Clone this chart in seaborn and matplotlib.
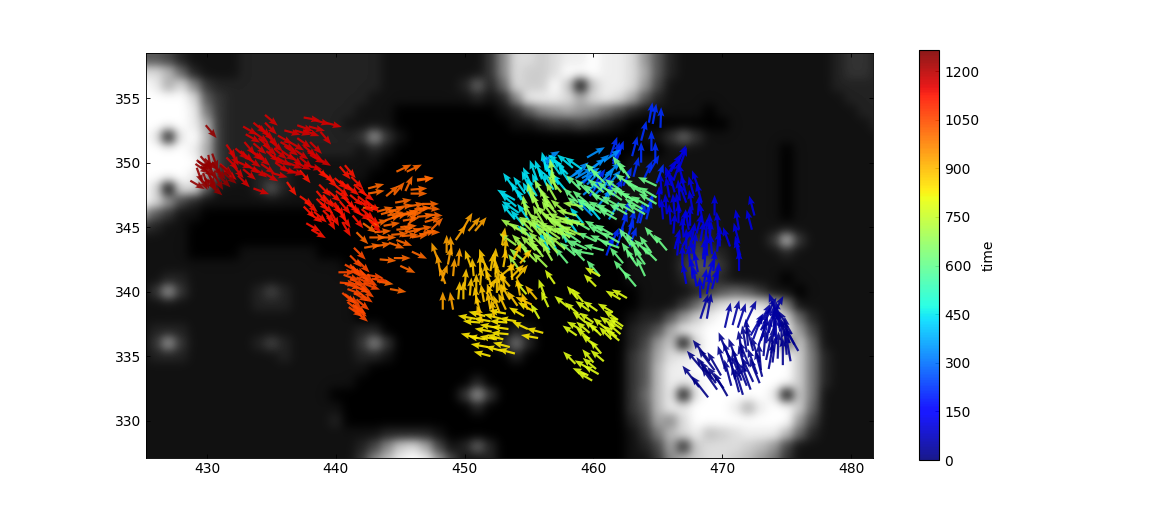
import matplotlib
matplotlib.use('Agg')
import matplotlib.pyplot as plt
import numpy as np
import seaborn as sns

# Background image, one hex digit per cell (0 black .. f white), x=425..482, y=358..327
image_rows = [
    '5542111122 2222222221 111111138d dcdeefeed9 5211111111 11112332',
    'ddb6211122 2222222221 111111138d ccdfffeeda 5211111111 11112332',
    'fead832222 2222222221 111112626d ccfc0ceed9 4111111111 11112222',
    'ffffd53222 2222222211 1111112128 eeedadeda5 2111111111 11111222',
    'ffffe73222 2222222111 0000000012 589a986421 1111011111 11111122',
    'ffffea3222 2222221111 0000000001 1233432100 0000001111 11111112',
    'fe1efb3222 2222222393 1000000000 0000000001 1363111111 11111111',
    'ffffea3222 2222222121 0000000000 0000000000 0111111111 01111111',
    'fffffb3222 2221111110 0000000000 0000000011 1111111111 01111111',
    'ffffe93212 2211111100 0000000000 0000000011 1111111111 01111111',
    'fd0dd51112 5211111000 0000000000 0000000111 1111111111 01111111',
    'fd94211111 1111110000 0000000000 0000000111 1111111111 01111111',
    '9531100000 0000000000 0000000000 0000000111 1111111111 01111111',
    '3211000000 0000000000 0000000000 0000000011 1111211111 11111111',
    '1111000000 0000000000 0000000000 0000000011 1123211113 b3111111',
    '1111000011 1111000000 0000000000 0000000011 1124321111 21111111',
    '1111111111 1111110000 0000000000 0000000011 1135531111 11111111',
    '1122111111 1111111000 0000000000 0000000011 1124421111 01111111',
    '1393111112 4211111100 0000000000 0000000001 1112356531 10111111',
    '1111111112 2211111000 0000000000 0000000001 1136bdeedb 71111111',
    '1111111111 1111111000 0000000000 0000000012 259cefffff c6211111',
    '1222111111 1111111220 0000000002 1000000023 5aeeffffff e9411111',
    '1393111112 4211111383 0000000027 2000000024 9c0dfffffe 5c611111',
    '1222111111 1211111221 0000000002 0000000035 adeeffffff fc721111',
    '1111111111 1111111100 0000000000 0000000035 beefffffff fc721111',
    '1111111111 1111111000 0000002000 0000000035 beeeffffff fc721111',
    '1111111111 1111100000 0000039300 0000000036 be0efffffe 0c711111',
    '1111111111 1111110000 0000002000 0000000035 beefffeaef fc611111',
    '1111111111 1111120000 0000000000 0000000024 a8dfffffff f9411111',
    '1111111111 1111111112 2221000000 0000000013 7bdebcdeee b6211111',
    '1111111111 1111111248 cda4126200 0000000012 4a2cdddcb9 41111111',
    '1111111111 111111138b efe9411200 0000000011 38bcddcb97 31111111',
]

# Arrows per stretch of the track: (x, y, direction in degrees)
navy_early = [
    (468.2, 332.6, 128), (468.9, 331.8, 128), (470.1, 332.5, 127), (469.6, 332.4, 125),
    (469.2, 333.2, 125), (469.4, 333.9, 127), (469.0, 334.6, 128), (469.9, 333.5, 120),
    (469.5, 332.9, 125), (470.4, 331.9, 120), (468.6, 333.8, 130),
]
navy_mid = [
    (470.3, 333.8, 108), (471.3, 332.2, 105), (471.0, 333.2, 105), (471.5, 333.1, 112),
    (471.9, 332.7, 112), (472.4, 333.0, 115), (472.7, 333.6, 110), (471.8, 333.8, 105),
    (472.1, 334.2, 112), (472.9, 334.5, 108), (471.2, 334.4, 110), (472.4, 335.4, 105),
    (471.6, 334.9, 100), (472.0, 335.8, 95), (473.4, 334.7, 78), (473.6, 334.0, 80),
    (473.9, 334.5, 83), (474.3, 334.8, 88), (475.0, 335.1, 95), (473.8, 335.2, 85),
    (474.6, 335.8, 90), (475.2, 336.0, 100), (475.6, 335.9, 118), (475.4, 336.7, 120),
    (474.9, 336.6, 110), (470.7, 332.7, 105), (471.6, 332.0, 107), (472.2, 332.4, 110),
    (472.9, 332.9, 112), (473.1, 333.4, 105), (471.4, 333.6, 108), (470.8, 334.1, 110),
    (470.5, 334.9, 112), (471.9, 335.3, 100), (473.2, 335.0, 85), (473.0, 333.9, 95),
    (474.7, 334.3, 90), (475.3, 334.6, 100), (475.9, 335.4, 120),
]
navy_late = [
    (470.2, 337.2, 77), (470.8, 337.4, 75), (471.2, 337.2, 72), (471.8, 337.5, 65),
    (472.2, 336.6, 60), (472.8, 337.3, 62), (473.2, 337.8, 60), (473.8, 337.9, 62),
    (474.0, 337.0, 90), (473.4, 336.0, 80), (474.0, 336.5, 85), (474.5, 336.9, 100),
    (474.5, 337.3, 100), (473.0, 336.2, 75), (472.8, 335.8, 70),
    (468.3, 337.9, 72), (468.8, 337.9, 80), (474.2, 336.0, 92), (472.4, 336.3, 70),
    (473.6, 336.8, 75), (474.3, 338.0, 110), (473.0, 337.0, 65),
]
blue_low = [
    (468.3, 339.5, 92), (468.8, 339.8, 80), (468.5, 340.2, 80), (469.2, 340.2, 75),
    (469.6, 340.7, 85), (468.0, 340.4, 100), (467.7, 341.0, 95), (468.1, 341.5, 100),
    (467.5, 342.0, 95), (467.9, 342.5, 105), (467.2, 343.3, 90), (467.6, 343.8, 80),
    (466.9, 343.5, 60), (466.3, 343.3, 75), (468.5, 342.5, 85), (468.8, 342.8, 90),
    (469.2, 342.9, 95), (469.6, 343.1, 85), (469.8, 343.5, 90), (468.3, 343.9, 80),
    (468.7, 344.1, 85), (469.0, 343.9, 85), (470.6, 343.5, 110), (471.3, 342.5, 100),
    (471.3, 341.6, 90), (471.4, 342.8, 105), (471.3, 343.8, 105), (472.3, 344.8, 105),
    (472.5, 345.9, 105), (471.3, 344.8, 100), (469.4, 345.9, 90), (467.5, 345.1, 90),
    (468.5, 345.3, 100), (468.1, 345.9, 85), (468.4, 346.9, 105), (467.8, 347.4, 105),
    (467.2, 347.5, 105), (467.2, 346.9, 110), (466.7, 346.1, 100), (466.6, 345.3, 90),
    (466.0, 345.2, 95), (465.7, 346.0, 95), (466.3, 346.0, 95), (465.4, 345.6, 95),
    (466.7, 347.1, 95), (466.3, 347.7, 105), (466.1, 348.2, 110), (465.6, 348.8, 60),
    (466.0, 349.3, 60), (466.5, 349.9, 65), (466.7, 349.7, 70), (467.0, 344.2, 95),
    (467.4, 344.8, 100), (466.2, 344.5, 85), (466.5, 342.8, 85), (468.9, 341.0, 75),
    (467.2, 340.6, 100), (468.6, 341.9, 85), (469.3, 341.6, 85), (466.9, 342.0, 90),
    (467.8, 343.0, 85), (469.0, 344.5, 90), (469.7, 344.6, 95), (468.0, 344.5, 75),
    (465.9, 347.3, 100), (467.7, 346.3, 100), (466.2, 348.6, 70), (465.3, 347.6, 95),
    (465.1, 346.6, 90), (467.0, 348.4, 105), (468.2, 347.9, 110), (466.9, 344.8, 80),
]
blue_top = [
    (464.3, 353.1, 80), (464.6, 353.0, 80), (465.2, 352.7, 88), (463.7, 351.7, 75),
    (464.5, 350.9, 90), (464.8, 350.0, 90), (463.7, 350.0, 90), (463.0, 350.5, 75),
    (461.5, 350.1, 70), (461.8, 350.2, 70), (461.5, 349.9, 65), (461.3, 350.5, 70),
    (462.8, 343.5, 70), (462.6, 344.1, 70), (462.3, 345.6, 70), (463.4, 345.3, 75),
    (464.1, 345.6, 75), (461.0, 342.8, 70), (461.8, 343.5, 70), (459.7, 347.4, 55),
    (460.8, 347.1, 60), (461.5, 347.4, 60), (462.3, 348.2, 65), (463.1, 348.9, 75),
    (463.9, 348.7, 65), (464.9, 348.4, 70), (464.3, 349.2, 60), (463.6, 345.3, 75),
    (462.8, 344.8, 75), (464.1, 346.1, 70), (462.1, 344.6, 70), (461.3, 343.5, 65),
    (460.5, 347.7, 55), (460.0, 348.2, 55), (459.2, 348.4, 45),
]
sky = [
    (456.0, 350.1, 30), (459.5, 350.4, 30), (459.1, 348.8, 30), (460.0, 349.6, 40),
    (460.8, 350.1, 35), (458.4, 349.0, 40), (459.5, 348.3, 45), (460.5, 348.4, 45),
    (459.2, 347.5, 40), (460.0, 347.4, 45), (457.9, 348.7, 30), (458.7, 348.2, 35),
    (456.6, 349.0, 100), (459.6, 349.4, 35), (458.6, 348.8, 30), (460.9, 349.0, 40),
    (461.1, 348.2, 50), (460.4, 346.7, 50), (459.9, 345.9, 135), (461.2, 345.6, 60),
]
cyan = [
    (453.9, 347.9, 125), (453.9, 347.1, 150), (454.2, 346.1, 145), (453.9, 345.6, 130),
    (456.0, 348.7, 110), (454.4, 347.1, 120), (455.1, 347.9, 115), (455.6, 348.7, 110),
    (456.4, 349.3, 105), (454.8, 346.6, 120), (455.3, 347.1, 120), (455.9, 347.7, 115),
    (456.4, 348.2, 115), (456.9, 348.7, 120), (457.4, 349.1, 125), (458.2, 348.4, 125),
    (457.7, 349.6, 140), (458.4, 349.6, 140), (459.1, 349.5, 145), (454.6, 345.1, 130),
    (455.3, 344.1, 140), (456.4, 344.3, 135), (457.1, 343.3, 120), (457.9, 343.8, 110),
    (458.7, 344.6, 125), (459.2, 345.3, 130), (460.5, 345.6, 130), (460.0, 346.2, 140),
    (455.2, 348.2, 115), (455.6, 347.4, 120), (454.7, 347.6, 125), (454.0, 346.6, 140),
    (456.9, 347.9, 120), (457.3, 348.3, 125), (457.8, 347.9, 130), (455.0, 345.5, 125),
    (456.6, 343.2, 120), (458.0, 349.1, 135),
]
green = [
    (462.8, 348.8, 125), (462.4, 349.2, 125), (460.9, 348.4, 135), (460.5, 348.8, 135),
    (461.5, 347.5, 140), (462.2, 347.8, 145), (463.0, 348.2, 145), (464.9, 348.2, 155),
    (464.1, 347.5, 150), (464.9, 347.3, 150), (464.9, 346.8, 150), (464.3, 346.6, 150),
    (463.5, 346.9, 150), (462.7, 347.3, 150), (462.0, 346.6, 150), (461.2, 346.8, 150),
    (460.6, 346.1, 150), (463.2, 346.1, 150), (464.0, 346.0, 150), (461.8, 345.6, 150),
    (462.6, 346.0, 150), (460.4, 347.3, 140), (459.7, 347.6, 135), (459.0, 347.9, 135),
    (459.6, 346.8, 140), (458.8, 346.9, 135), (461.5, 344.4, 150), (462.0, 343.8, 150),
    (462.0, 343.4, 160), (461.0, 344.3, 150), (460.8, 343.2, 165), (460.0, 342.9, 170),
    (460.2, 343.9, 155), (459.7, 344.8, 150), (459.0, 343.8, 145), (458.4, 343.5, 130),
    (462.3, 342.2, 130), (463.1, 342.5, 125), (464.0, 342.1, 125), (464.3, 342.9, 135),
    (464.9, 342.4, 135), (465.7, 343.2, 130), (465.0, 343.8, 130), (463.3, 343.2, 120),
    (463.7, 342.8, 125), (463.3, 340.4, 130), (462.6, 341.2, 130), (464.0, 341.2, 115),
    (460.5, 341.2, 130), (461.0, 346.2, 150), (461.6, 346.0, 150), (462.2, 347.1, 145),
    (463.1, 347.1, 150), (463.8, 346.4, 150), (463.7, 347.9, 150), (460.8, 347.7, 140),
    (460.0, 346.3, 145), (459.2, 346.3, 140), (460.7, 344.7, 150), (461.2, 343.7, 155),
    (459.5, 343.3, 155), (458.6, 342.8, 140), (459.3, 342.4, 135), (464.5, 343.0, 125),
    (463.4, 342.0, 125), (462.9, 343.6, 125), (458.0, 342.2, 130),
]
lime = [
    (455.3, 345.6, 120), (455.9, 346.1, 115), (456.5, 346.6, 115), (457.1, 347.1, 120),
    (457.5, 347.7, 130), (455.3, 346.9, 105), (454.8, 345.9, 100), (456.1, 345.3, 120),
    (456.9, 345.7, 125), (457.9, 346.1, 140), (458.7, 345.9, 165), (459.2, 346.6, 170),
    (457.7, 345.0, 150), (458.4, 345.2, 165), (459.3, 345.2, 170), (457.1, 344.6, 150),
    (456.4, 344.7, 145), (455.6, 345.0, 150), (454.8, 344.4, 145), (454.2, 344.8, 150),
    (455.3, 343.9, 130), (456.1, 343.5, 135), (457.0, 343.5, 130), (457.8, 343.3, 140),
    (457.4, 344.1, 145), (458.2, 344.2, 150), (459.0, 344.4, 155), (455.9, 343.0, 130),
    (455.1, 342.8, 135), (455.6, 342.3, 135), (456.8, 342.4, 120), (454.7, 342.3, 140),
    (456.4, 341.9, 135), (456.9, 348.7, 100), (457.1, 347.9, 105), (455.9, 344.4, 130),
    (456.3, 345.0, 140), (456.7, 345.5, 135), (457.3, 345.3, 150), (457.1, 346.1, 135),
    (458.0, 344.8, 155), (458.6, 344.4, 160), (457.6, 344.4, 150), (456.8, 344.0, 140),
    (455.5, 343.2, 135), (456.1, 342.7, 130), (457.2, 343.0, 130), (455.7, 346.6, 115),
    (456.2, 347.3, 120), (456.9, 346.4, 125), (458.0, 345.5, 160), (454.8, 343.3, 135),
    (455.3, 344.6, 135), (454.0, 343.6, 145), (458.9, 345.3, 165), (456.6, 343.0, 125),
    (454.3, 341.6, 125),
]
yellow = [
    (460.5, 341.2, 150), (460.2, 340.4, 135), (458.0, 338.8, 140), (458.8, 339.4, 130),
    (459.7, 338.5, 145), (458.8, 338.3, 140), (460.0, 337.6, 145), (461.5, 338.4, 150),
    (462.6, 339.5, 150), (462.1, 339.4, 150), (462.2, 337.1, 145), (462.3, 337.3, 145),
    (462.1, 336.7, 140), (461.8, 336.5, 140), (461.4, 336.3, 135), (460.6, 336.6, 135),
    (459.7, 336.8, 140), (459.7, 336.3, 140), (459.1, 337.0, 150), (458.7, 336.6, 145),
    (460.1, 335.8, 140), (460.8, 334.6, 140), (460.6, 335.2, 130), (460.0, 334.5, 130),
    (458.6, 334.4, 135), (460.4, 333.6, 150), (459.7, 334.0, 150), (459.9, 333.1, 150),
    (459.6, 333.5, 155), (456.5, 338.8, 115), (457.0, 340.6, 125), (456.2, 339.7, 110),
    (454.8, 339.8, 130), (455.8, 337.9, 120), (461.9, 337.8, 145), (461.6, 337.3, 145),
    (462.0, 336.2, 140), (461.0, 337.1, 140), (460.3, 336.9, 140), (460.3, 338.5, 145),
    (459.4, 337.6, 140), (459.2, 339.2, 130), (460.2, 334.0, 140),
]
gold = [
    (456.1, 336.8, 165), (455.7, 336.4, 170), (453.3, 337.6, 175), (454.0, 337.7, 170),
    (453.4, 336.7, 175), (452.5, 336.3, 170), (451.6, 336.3, 170), (451.0, 336.4, 165),
    (453.5, 335.7, 165), (453.9, 335.2, 165), (452.9, 335.4, 165), (451.8, 335.7, 170),
    (451.2, 337.6, 175), (452.5, 337.2, 170), (452.0, 337.7, 170), (451.6, 338.1, 165),
    (455.3, 338.5, 150), (453.2, 338.3, 170), (452.8, 337.9, 165), (452.1, 336.9, 170),
    (453.0, 336.3, 165), (454.6, 338.1, 150), (454.9, 337.1, 155), (450.8, 337.9, 170),
    (452.0, 335.0, 165), (453.4, 337.1, 172),
]
amber = [
    (453.1, 342.8, 85), (453.8, 342.5, 65), (453.5, 340.4, 130), (454.3, 342.2, 50),
    (453.0, 341.9, 80), (452.4, 341.1, 90), (452.7, 340.7, 100), (453.1, 340.2, 100),
    (452.1, 340.4, 110), (451.7, 339.8, 60), (452.5, 339.9, 90), (453.5, 339.4, 120),
    (451.2, 341.5, 90), (451.6, 342.0, 110), (450.7, 341.2, 95), (450.0, 340.4, 85),
    (450.4, 339.7, 85), (449.9, 339.4, 90), (449.5, 339.4, 85), (451.2, 338.4, 105),
    (451.4, 337.6, 110), (452.0, 338.6, 100), (452.7, 338.4, 110), (454.3, 339.7, 100),
    (454.9, 338.6, 110), (455.6, 339.4, 130), (455.2, 339.0, 155), (452.0, 341.6, 80),
    (452.9, 341.3, 40), (452.3, 342.0, 85), (451.2, 340.5, 85), (451.8, 340.9, 100),
    (450.9, 340.0, 90), (453.0, 339.4, 105), (452.2, 339.3, 110), (453.6, 341.1, 45),
    (451.5, 339.2, 100), (452.3, 338.0, 100), (453.7, 340.9, 95), (450.5, 341.9, 110),
    (454.0, 341.0, 50), (451.0, 339.0, 100), (453.2, 338.6, 115), (454.1, 338.9, 125),
    (452.9, 343.6, 80),
]
dark_amber = [
    (448.3, 338.6, 90), (449.1, 338.6, 100), (448.5, 340.6, 110), (448.1, 341.5, 100),
    (449.1, 341.2, 85), (449.5, 342.0, 85), (449.0, 342.9, 95), (448.6, 343.0, 90),
    (447.9, 342.5, 110), (449.3, 344.0, 55), (449.9, 344.9, 60), (450.3, 344.7, 50),
    (450.8, 344.7, 50), (448.2, 340.8, 70), (448.7, 342.1, 80),
]
orange = [
    (444.7, 349.3, 25), (445.5, 349.3, 25), (442.5, 348.0, 15), (442.5, 347.6, 10),
    (443.9, 347.4, 40), (444.5, 347.5, 50), (445.4, 347.8, 65), (446.3, 348.7, 5),
    (446.3, 348.6, 10), (445.8, 347.9, 5), (445.8, 347.6, 0), (442.1, 346.5, 0),
    (443.2, 346.2, 15), (444.1, 346.2, 15), (444.7, 346.5, 10), (445.6, 346.6, 10),
    (446.7, 346.8, 0), (446.8, 346.5, 355), (445.8, 346.2, 10), (445.1, 346.0, 10),
    (444.3, 345.7, 15), (443.8, 345.5, 20), (445.2, 345.5, 10), (443.7, 345.1, 10),
    (444.7, 344.8, 5), (446.3, 345.8, 5), (447.0, 346.0, 355), (445.6, 345.1, 60),
    (447.4, 344.8, 45), (446.8, 344.6, 0), (445.1, 344.3, 5), (445.9, 344.2, 10),
    (446.5, 344.4, 15), (442.6, 344.2, 0), (443.4, 344.2, 0), (442.2, 343.4, 10),
    (443.0, 343.5, 10), (444.1, 343.8, 340), (444.7, 344.0, 340), (445.9, 343.1, 335),
    (443.4, 342.5, 355), (444.5, 342.6, 0), (445.0, 342.0, 335), (441.6, 344.6, 315),
    (442.1, 345.3, 325), (442.4, 345.7, 325), (444.2, 340.2, 350), (443.2, 340.8, 350),
    (444.0, 345.9, 12), (444.9, 345.9, 10), (443.5, 346.0, 15), (445.4, 346.0, 5),
    (446.1, 346.4, 5), (445.0, 345.0, 5), (446.2, 344.8, 10), (444.3, 344.4, 5),
    (443.0, 344.6, 5), (442.8, 345.2, 15), (445.4, 344.6, 10), (446.9, 345.4, 15),
    (444.6, 346.9, 10),
]
orange_red = [
    (441.4, 343.4, 315), (441.1, 342.8, 315), (441.1, 342.1, 310), (440.7, 342.1, 330),
    (440.2, 341.5, 0), (440.3, 340.7, 355), (440.6, 341.3, 340), (441.4, 341.6, 330),
    (441.6, 341.1, 335), (441.9, 341.6, 320), (442.1, 341.1, 330), (441.4, 340.4, 340),
    (440.7, 340.6, 345), (440.7, 339.8, 325), (441.4, 339.9, 330), (440.5, 339.9, 320),
    (441.6, 339.4, 320), (441.1, 339.5, 315), (441.4, 338.9, 320), (441.0, 338.8, 325),
    (441.5, 338.5, 320), (441.9, 340.3, 325), (442.4, 341.3, 350), (441.1, 341.0, 335),
    (441.5, 340.7, 330), (440.9, 340.2, 340), (441.8, 339.9, 325), (441.2, 341.9, 330),
    (441.7, 342.4, 315), (440.9, 339.2, 320), (442.2, 340.6, 340), (442.8, 341.0, 350),
    (441.3, 339.0, 325),
]
red = [
    (440.3, 349.7, 310), (440.7, 349.8, 310), (439.9, 348.8, 320), (438.9, 349.3, 320),
    (438.4, 349.7, 315), (437.2, 349.4, 310), (436.2, 348.5, 305), (437.2, 347.4, 325),
    (437.6, 347.0, 320), (437.5, 346.6, 315), (437.9, 346.1, 325), (437.7, 345.3, 330),
    (438.1, 344.8, 330), (438.3, 346.2, 320), (438.5, 347.8, 310), (439.0, 347.5, 310),
    (439.6, 347.0, 310), (439.4, 347.8, 320), (440.0, 347.8, 325), (440.3, 348.6, 320),
    (440.8, 348.3, 320), (441.4, 348.3, 320), (440.6, 347.3, 315), (441.1, 347.5, 320),
    (441.9, 347.8, 325), (441.9, 347.0, 320), (441.1, 346.8, 315), (439.6, 346.2, 300),
    (440.1, 346.5, 305), (440.3, 347.0, 310), (441.6, 346.2, 330), (442.4, 346.0, 320),
    (442.4, 347.0, 320), (442.6, 345.5, 315), (438.8, 346.9, 320), (438.7, 348.3, 315),
    (439.2, 349.0, 315), (439.9, 346.9, 305), (440.4, 346.0, 305), (440.9, 347.0, 315),
    (441.3, 345.9, 310), (439.0, 346.3, 315), (438.5, 347.2, 315), (440.0, 348.2, 320),
    (441.7, 347.4, 322), (442.0, 346.4, 320), (441.2, 348.9, 315), (440.5, 345.4, 300),
    (439.3, 345.9, 300),
]
crimson = [
    (434.5, 353.7, 320), (437.5, 353.5, 350), (438.3, 353.3, 345), (439.2, 353.1, 345),
    (432.8, 352.8, 330), (433.6, 353.1, 320), (434.0, 352.9, 315), (434.5, 353.1, 315),
    (436.0, 352.5, 345), (437.0, 352.9, 340), (436.8, 352.5, 345), (437.5, 352.5, 340),
    (438.8, 352.4, 310), (438.0, 351.6, 315), (437.0, 351.9, 325), (433.7, 352.3, 325),
    (434.6, 352.2, 315), (435.7, 351.6, 330), (436.4, 351.6, 330), (437.5, 351.3, 320),
    (438.0, 350.6, 330), (438.5, 350.4, 330), (431.5, 351.4, 305), (432.2, 351.1, 320),
    (432.9, 351.6, 310), (433.6, 351.5, 320), (434.4, 351.4, 320), (435.2, 351.1, 320),
    (435.8, 350.9, 325), (436.4, 350.6, 320), (437.2, 350.4, 320), (432.3, 350.1, 335),
    (433.1, 350.4, 325), (433.9, 350.6, 320), (434.6, 350.9, 320), (435.4, 350.4, 330),
    (436.2, 350.0, 340), (437.7, 349.8, 345), (432.8, 349.5, 320), (433.6, 349.6, 325),
    (434.4, 349.2, 330), (435.0, 349.2, 345), (435.7, 349.6, 340), (436.3, 349.4, 345),
    (432.0, 349.8, 310), (431.0, 349.9, 320), (433.6, 348.0, 340), (431.8, 350.9, 300),
    (432.6, 350.9, 320), (433.3, 351.0, 320), (434.0, 351.9, 320), (434.9, 351.7, 320),
    (435.3, 350.0, 325), (434.2, 349.9, 325), (433.0, 349.9, 325), (431.5, 350.4, 315),
    (435.5, 352.1, 330), (436.8, 351.0, 325), (436.9, 350.0, 335), (437.8, 350.9, 330),
    (431.3, 349.5, 320), (432.4, 349.0, 315), (433.4, 350.9, 330), (434.9, 350.6, 325),
    (436.0, 351.3, 325), (433.0, 352.2, 330), (434.2, 352.6, 320), (437.9, 352.8, 345),
]
dark_red = [
    (429.9, 352.9, 310), (429.2, 350.2, 320), (429.5, 349.7, 325), (428.7, 348.6, 330),
    (429.2, 349.6, 290), (429.7, 349.2, 290), (430.1, 350.6, 280), (430.4, 350.7, 290),
    (429.8, 348.8, 320), (430.2, 348.3, 320), (430.6, 349.0, 300), (430.9, 349.0, 315),
    (431.0, 349.8, 320), (430.1, 349.8, 300), (429.3, 350.1, 330), (431.3, 349.2, 320),
    (429.5, 350.5, 310), (429.8, 350.3, 320), (430.0, 349.3, 300), (429.4, 349.0, 300),
    (430.4, 350.0, 305), (430.6, 349.7, 310), (429.1, 349.9, 325), (430.2, 349.0, 290),
]

bands = [navy_early, navy_mid, navy_late, blue_low, blue_top, sky, cyan, green, lime,
         yellow, gold, amber, dark_amber, orange, orange_red, red, crimson, dark_red]
band_times = [5, 15, 35, 110, 215, 340, 440, 610, 700, 790, 840, 880, 930, 1010, 1050, 1125, 1170, 1245]
band_lengths = [2.1, 2.1, 2.0, 1.6, 1.6, 1.6, 1.6, 1.6, 1.6, 1.35, 1.35, 1.4, 1.4, 1.3, 1.3, 1.3, 1.3, 1.3]

colorbar_ticks = [0, 150, 300, 450, 600, 750, 900, 1050, 1200]

sns.set_style('ticks', {'xtick.direction': 'in', 'ytick.direction': 'in',
                        'axes.edgecolor': 'black', 'axes.linewidth': 1.0,
                        'font.family': ['DejaVu Sans'], 'text.color': 'black',
                        'xtick.color': 'black', 'ytick.color': 'black',
                        'axes.labelcolor': 'black'})
plt.rcParams['font.size'] = 12.5

fig = plt.figure(figsize=(1173 / 80, 512 / 80), dpi=80)
ax = fig.add_axes([146 / 1173, 54 / 512, 727 / 1173, 405 / 512])
cax = fig.add_axes([919 / 1173, 52 / 512, 20 / 1173, 410 / 512])

# Background
image = np.array([[int(c, 16) * 17 for c in row.replace(' ', '')] for row in image_rows])
ax.imshow(image, cmap='gray', vmin=0, vmax=255, interpolation='gaussian',
          extent=(424.5, 482.5, 326.5, 358.5), aspect='auto')

# Arrows, oldest first so later times end up on top
xs, ys, us, vs, ts = [], [], [], [], []
for band, t, length in zip(bands, band_times, band_lengths):
    x, y, direction = np.array(band, dtype=float).T
    xs.append(x)
    ys.append(y)
    us.append(length * np.cos(np.radians(direction)))
    vs.append(length * np.sin(np.radians(direction)))
    ts.append(np.full(len(band), t))

q = ax.quiver(np.concatenate(xs), np.concatenate(ys), np.concatenate(us), np.concatenate(vs),
              np.concatenate(ts), cmap='jet', clim=(0, 1265),
              angles='xy', scale_units='xy', scale=1, width=0.003, headwidth=3.2, headlength=4.2,
              headaxislength=3.7, alpha=0.9, linewidth=0.3, edgecolor='none')

ax.set_xlim(425.26, 481.7)
ax.set_ylim(327.1, 358.5)
ax.set_xticks([430, 440, 450, 460, 470, 480])
ax.set_yticks([330, 335, 340, 345, 350, 355])
ax.tick_params(top=True, right=True, length=4, width=0.8, labelsize=12.5, pad=4)

cb = fig.colorbar(q, cax=cax, ticks=colorbar_ticks)
cb.solids.set_edgecolor('none')
cb.solids.set_antialiased(True)
cb.ax.tick_params(direction='in', length=4, width=0.8, labelsize=12.5, pad=5)
cb.set_label('time', fontsize=12.5, labelpad=2)
cb.outline.set_linewidth(1.0)

plt.savefig('out.png', dpi=80)
